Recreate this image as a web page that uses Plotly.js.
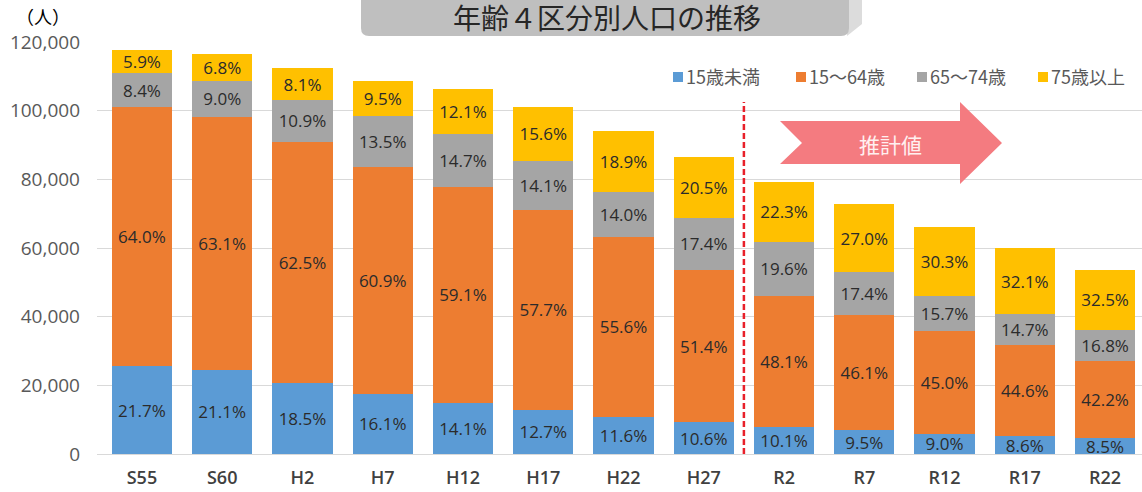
<!DOCTYPE html>
<html>
<head>
<meta charset="utf-8">
<script src="https://cdn.plot.ly/plotly-3.0.1.min.js"></script>
<style>html,body{margin:0;padding:0;background:#fff;}#chart{width:1142px;height:492px;}</style>
</head>
<body>
<div id="chart"></div>
<script>
// ---- data ----
const categories = ['S55','S60','H2','H7','H12','H17','H22','H27','R2','R7','R12','R17','R22'];
const seriesNames = ['15歳未満','15～64歳','65～74歳','75歳以上'];
const seriesColors = ['#5B9BD5','#ED7D31','#A5A5A5','#FFC000'];
// population (persons) of each age group
const popUnder15 = [25560,24600,20780,17500,14970,12840,10900,9180,8010,6910,5960,5150,4560];
const pop15to64  = [75390,73580,70190,66200,62760,58330,52260,44510,38140,33510,29790,26720,22620];
const pop65to74  = [9900,10490,12240,14670,15610,14260,13160,15070,15540,12650,10390,8810,9000];
const pop75over  = [6950,7930,9100,10330,12850,15770,17770,17750,17680,19630,20060,19230,17420];
// share labels (%)
const pctUnder15 = [21.7,21.1,18.5,16.1,14.1,12.7,11.6,10.6,10.1,9.5,9.0,8.6,8.5];
const pct15to64  = [64.0,63.1,62.5,60.9,59.1,57.7,55.6,51.4,48.1,46.1,45.0,44.6,42.2];
const pct65to74  = [8.4,9.0,10.9,13.5,14.7,14.1,14.0,17.4,19.6,17.4,15.7,14.7,16.8];
const pct75over  = [5.9,6.8,8.1,9.5,12.1,15.6,18.9,20.5,22.3,27.0,30.3,32.1,32.5];
const forecastFrom = 'R2';
const titleText = '年齢４区分別人口の推移';
const unitText = '（人）';
const forecastText = '推計値';

// ---- layout geometry ----
const W = 1142, H = 492, L = 97, R = 0, T = 42, B = 38;
const PW = W - L - R, PH = H - T - B;
const px = x => (x - L) / PW;
const py = y => (T + PH - y) / PH;

const values = [popUnder15, pop15to64, pop65to74, pop75over];
const pcts = [pctUnder15, pct15to64, pct65to74, pct75over];
const labelFont = {family: 'Open Sans, sans-serif', size: 17, color: '#2B2B2B'};

const traces = values.map((v, i) => ({
  type: 'bar',
  name: seriesNames[i],
  x: categories,
  y: v,
  marker: {color: seriesColors[i], line: {width: 0}},
  text: pcts[i].map(p => p.toFixed(1) + '%'),
  textposition: 'inside',
  insidetextanchor: 'middle',
  textangle: 0,
  textfont: labelFont,
  hoverinfo: 'x+y+name',
  showlegend: false
}));

const shapes = [];
const annotations = [];

// title box with bevel
const bx0 = 361, bx1 = 849, by0 = -6, by1 = 36, rr = 8;
shapes.push({
  type: 'path', xref: 'paper', yref: 'paper', layer: 'above',
  path: `M ${px(bx1+13)} ${py(by0)} L ${px(bx1+13)} ${py(by1-12)} L ${px(bx1-2)} ${py(by1)} L ${px(bx1-2)} ${py(by0)} Z`,
  fillcolor: '#DCDCDC', line: {width: 0}
});
shapes.push({
  type: 'path', xref: 'paper', yref: 'paper', layer: 'above',
  path: `M ${px(bx0)} ${py(by0)} L ${px(bx1)} ${py(by0)} L ${px(bx1)} ${py(by1-rr)} Q ${px(bx1)} ${py(by1)} ${px(bx1-rr)} ${py(by1)} L ${px(bx0+rr)} ${py(by1)} Q ${px(bx0)} ${py(by1)} ${px(bx0)} ${py(by1-rr)} Z`,
  fillcolor: '#BFBFBF', line: {width: 0}
});
annotations.push({
  xref: 'paper', yref: 'paper', x: px(607), y: py(17), xanchor: 'center', yanchor: 'middle',
  text: titleText, showarrow: false,
  font: {family: 'Noto Sans CJK JP, sans-serif', size: 28, color: '#262626'}
});

// unit label
annotations.push({
  xref: 'paper', yref: 'paper', x: px(43), y: py(16), xanchor: 'center', yanchor: 'middle',
  text: unitText, showarrow: false,
  font: {family: 'Noto Sans CJK JP, serif', size: 18, color: '#000000'}
});

// forecast divider
const fIdx = categories.indexOf(forecastFrom) - 0.5;
shapes.push({
  type: 'line', xref: 'x', yref: 'paper', x0: fIdx, x1: fIdx, y0: 0, y1: py(102),
  line: {color: '#E8202A', width: 2.5, dash: '6px,3px'}
});

// forecast arrow
const ax0 = 780, axn = 802, axh = 960, axt = 1002, ayc = 143, ab0 = 121, ab1 = 164, ah0 = 102, ah1 = 184;
shapes.push({
  type: 'path', xref: 'paper', yref: 'paper', layer: 'above',
  path: `M ${px(ax0)} ${py(ab0)} L ${px(axh)} ${py(ab0)} L ${px(axh)} ${py(ah0)} L ${px(axt)} ${py(ayc)} L ${px(axh)} ${py(ah1)} L ${px(axh)} ${py(ab1)} L ${px(ax0)} ${py(ab1)} L ${px(axn)} ${py(ayc)} Z`,
  fillcolor: '#F47B80', line: {width: 0}
});
annotations.push({
  xref: 'paper', yref: 'paper', x: px(890), y: py(144), xanchor: 'center', yanchor: 'middle',
  text: forecastText, showarrow: false,
  font: {family: 'Noto Sans CJK JP, sans-serif', size: 21, color: '#FFF0F0'}
});

// legend (manual, to match the compact Office style)
const legSq = [673, 796, 917, 1038];
seriesNames.forEach((n, i) => {
  shapes.push({
    type: 'rect', xref: 'paper', yref: 'paper',
    x0: px(legSq[i]), x1: px(legSq[i] + 10), y0: py(82), y1: py(72),
    fillcolor: seriesColors[i], line: {width: 0}
  });
  annotations.push({
    xref: 'paper', yref: 'paper', x: px(legSq[i] + 11), y: py(76), xanchor: 'left', yanchor: 'middle',
    text: n, showarrow: false,
    font: {family: 'Noto Sans CJK JP, sans-serif', size: 18, color: '#595959'}
  });
});

const layout = {
  width: W, height: H,
  margin: {l: L, r: R, t: T, b: B, pad: 0},
  paper_bgcolor: '#FFFFFF', plot_bgcolor: '#FFFFFF',
  barmode: 'stack', bargap: 0.25,
  showlegend: false,
  uniformtext: {mode: 'show', minsize: 17},
  xaxis: {
    type: 'category', range: [-0.56, 12.46],
    showgrid: false, zeroline: false, showline: false, ticks: '',
    ticklabelstandoff: 11,
    tickfont: {family: 'Open Sans, sans-serif', size: 18, color: '#404040', weight: 600}
  },
  yaxis: {
    range: [0, 120000], dtick: 20000, tickformat: ',',
    showgrid: true, gridcolor: '#D9D9D9', gridwidth: 1,
    zeroline: true, zerolinecolor: '#D9D9D9', zerolinewidth: 1,
    showline: false, ticks: '',
    ticklabelstandoff: 16,
    tickfont: {family: 'Open Sans, sans-serif', size: 19, color: '#595959'}
  },
  shapes: shapes,
  annotations: annotations
};

Plotly.newPlot('chart', traces, layout, {displayModeBar: false, staticPlot: true});
</script>
</body>
</html>
